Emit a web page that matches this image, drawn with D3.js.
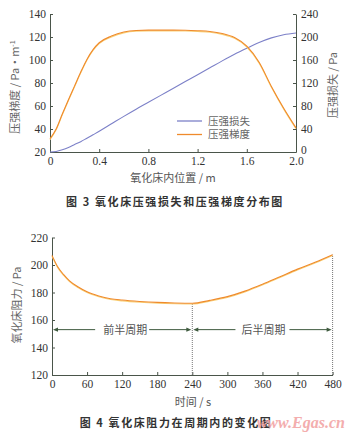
<!DOCTYPE html>
<html><head><meta charset="utf-8">
<script src="https://cdn.jsdelivr.net/npm/d3@7"></script>
<style>
body{margin:0;background:#fff;}
svg{display:block;}
.tick text{font-family:"Liberation Serif","DejaVu Serif",serif;font-size:11.5px;fill:#333;}
.axis path,.axis line{stroke:#4a554a;}
</style></head>
<body>
<script>
// Figure 3 data
const positions = [0,0.05,0.1,0.15,0.2,0.25,0.3,0.35,0.4,0.5,0.6,0.7,0.8,0.9,1.0,1.1,1.2,1.3,1.4,1.5,1.6,1.7,1.8,1.9,2.0];
const gradient = [31.5,40,53,65.5,77.5,89.5,100.5,109,115,120.8,124.3,125.7,126,126,126,125.9,125.5,124.8,123,119.5,112,98,77,58,41];
const pressureLoss = [0,1,4,8,13,18,24,30,36,49,62,74.5,86.5,98.5,110.5,122.5,134.5,146.5,158.5,170,180.5,190.5,198.5,204,207];
const xTicks1 = [0,0.4,0.8,1.2,1.6,2.0];
const leftTicks1 = [20,40,60,80,100,120,140];
const rightTicks1 = [0,40,80,120,160,200,240];
const legendNames = ["压强损失","压强梯度"];
// Figure 4 data
const times = [0,10,20,30,45,60,80,100,120,150,180,210,240,270,300,330,360,390,420,450,480];
const resistance = [207,198.5,193,188.5,184,180.5,177.5,175.5,174.5,173.5,172.8,172.4,172.2,174.3,177,181,186,191.5,197,202,207.5];
const xTicks2 = [0,60,120,180,240,300,360,420,480];
const yTicks2 = [120,140,160,180,200,220];
const arrowY = 153;
const halfNames = ["前半周期","后半周期"];

const W=350,H=435;
const svg=d3.select("body").append("svg").attr("width",W).attr("height",H);
const cjk='"Noto Sans CJK SC","Noto Sans",sans-serif';

// ---------- Figure 3 ----------
const x1=d3.scaleLinear().domain([0,2]).range([50,296]);
const yL=d3.scaleLinear().domain([20,140]).range([152,14]);
const yR=d3.scaleLinear().domain([0,240]).range([152,14]);
const fmt1=d=>d===0?"0":d3.format(".1f")(d);

svg.append("g").attr("class","axis").attr("transform","translate(0,152)")
  .call(d3.axisBottom(x1).tickValues(xTicks1).tickFormat(fmt1).tickSizeInner(-3).tickSizeOuter(0).tickPadding(5));
svg.append("g").attr("class","axis").attr("transform","translate(50,0)")
  .call(d3.axisLeft(yL).tickValues(leftTicks1).tickSizeInner(-3).tickSizeOuter(0).tickPadding(4));
const rAxis=svg.append("g").attr("class","axis").attr("transform","translate(296,0)")
  .call(d3.axisRight(yR).tickValues(rightTicks1).tickSizeInner(-3).tickSizeOuter(0).tickPadding(5));
rAxis.selectAll(".tick text").filter(d=>d===0).attr("dy","0.1em");

const lineLoss=d3.line().x((d,i)=>x1(positions[i])).y(d=>yR(d)).curve(d3.curveMonotoneX);
const lineGrad=d3.line().x((d,i)=>x1(positions[i])).y(d=>yL(d)).curve(d3.curveMonotoneX);
svg.append("path").datum(pressureLoss).attr("d",lineLoss).attr("fill","none").attr("stroke","#7c80c8").attr("stroke-width",1.1);
svg.append("path").datum(gradient).attr("d",lineGrad).attr("fill","none").attr("stroke","#f9d27a").attr("stroke-width",1.1).attr("transform","translate(0,0.8)");
svg.append("path").datum(gradient).attr("d",lineGrad).attr("fill","none").attr("stroke","#ef8a2c").attr("stroke-width",1.1);

// legend
const legCols=["#7c80c8","#ef8a2c"];
legendNames.forEach((n,i)=>{
  const y=121+i*13.5;
  svg.append("line").attr("x1",177).attr("x2",202).attr("y1",y).attr("y2",y).attr("stroke",legCols[i]).attr("stroke-width",1.3);
  svg.append("text").attr("x",208).attr("y",y+3.8).text(n).attr("font-family",cjk).attr("font-size",10.5).attr("fill","#666");
});

// axis titles
svg.append("text").attr("transform","translate(19,87) rotate(-90)").attr("text-anchor","middle")
  .attr("font-family",cjk).attr("font-size",11).attr("fill","#666")
  .html('压强梯度 / Pa·m<tspan dy="-4" font-size="7">-1</tspan>');
svg.append("text").attr("transform","translate(337,85) rotate(-90)").attr("text-anchor","middle")
  .attr("font-family",cjk).attr("font-size",11).attr("fill","#666").text("压强损失 / Pa");
svg.append("text").attr("x",173).attr("y",182).attr("text-anchor","middle")
  .attr("font-family",cjk).attr("font-size",11).attr("fill","#555").text("氧化床内位置 / m");
svg.append("text").attr("x",175).attr("y",206).attr("text-anchor","middle")
  .attr("font-family",cjk).attr("font-size",11).attr("font-weight","bold").attr("letter-spacing","1.6px").attr("fill","#333")
  .text("图 3   氧化床压强损失和压强梯度分布图");

// ---------- Figure 4 ----------
const x2=d3.scaleLinear().domain([0,480]).range([52,332.6]);
const y2=d3.scaleLinear().domain([120,220]).range([375,237.5]);

svg.append("g").attr("class","axis").attr("transform","translate(0,375)")
  .call(d3.axisBottom(x2).tickValues(xTicks2).tickSizeInner(-3).tickSizeOuter(0).tickPadding(5));
svg.append("g").attr("class","axis").attr("transform","translate(52,0)")
  .call(d3.axisLeft(y2).tickValues(yTicks2).tickSizeInner(-3).tickSizeOuter(0).tickPadding(4));

// dotted verticals
[[240,resistance[times.indexOf(240)]],[480,resistance[times.indexOf(480)]]].forEach(([t,v])=>{
  svg.append("line").attr("x1",x2(t)).attr("x2",x2(t)).attr("y1",y2(120)).attr("y2",y2(v))
    .attr("stroke","#777").attr("stroke-width",1).attr("stroke-dasharray","1,1");
});

const line2=d3.line().x((d,i)=>x2(times[i])).y(d=>y2(d)).curve(d3.curveMonotoneX);
svg.append("path").datum(resistance).attr("d",line2).attr("fill","none").attr("stroke","#f9d27a").attr("stroke-width",1.1).attr("transform","translate(0,0.8)");
svg.append("path").datum(resistance).attr("d",line2).attr("fill","none").attr("stroke","#ef8a2c").attr("stroke-width",1.1);

// arrows
const arrCol="#3e5a3e";
const ay=y2(arrowY);
const segs=[[0,240],[240,480]];
segs.forEach(([a,b],i)=>{
  const xa=x2(a)+1, xb=x2(b)-1, xm=(x2(a)+x2(b))/2;
  const halfGap=27;
  svg.append("line").attr("x1",xa+4).attr("x2",xm-halfGap).attr("y1",ay).attr("y2",ay).attr("stroke",arrCol).attr("stroke-width",1);
  svg.append("line").attr("x1",xm+halfGap).attr("x2",xb-4).attr("y1",ay).attr("y2",ay).attr("stroke",arrCol).attr("stroke-width",1);
  svg.append("path").attr("d",`M${xa},${ay}L${xa+5},${ay-2.2}L${xa+5},${ay+2.2}Z`).attr("fill",arrCol);
  svg.append("path").attr("d",`M${xb},${ay}L${xb-5},${ay-2.2}L${xb-5},${ay+2.2}Z`).attr("fill",arrCol);
  svg.append("text").attr("x",xm+(i===0?3:1)).attr("y",ay+4).attr("text-anchor","middle")
    .attr("font-family",cjk).attr("font-size",11).attr("fill","#555").text(halfNames[i]);
});

svg.append("text").attr("transform","translate(21,305) rotate(-90)").attr("text-anchor","middle")
  .attr("font-family",cjk).attr("font-size",11).attr("fill","#666").text("氧化床阻力 / Pa");
svg.append("text").attr("x",193).attr("y",406).attr("text-anchor","middle")
  .attr("font-family",cjk).attr("font-size",11).attr("fill","#555").text("时间 / s");
svg.append("text").attr("x",176).attr("y",427).attr("text-anchor","middle")
  .attr("font-family",cjk).attr("font-size",11).attr("font-weight","bold").attr("letter-spacing","1.6px").attr("fill","#333")
  .text("图 4   氧化床阻力在周期内的变化图");
// watermark
svg.append("text").attr("x",345).attr("y",428).attr("text-anchor","end")
  .attr("font-family",'"Liberation Serif",serif').attr("font-style","italic").attr("font-weight","bold")
  .attr("font-size",16).attr("fill","#f2a0a0").attr("opacity",0.85).text("www.Egas.cn");
</script>
</body></html>
